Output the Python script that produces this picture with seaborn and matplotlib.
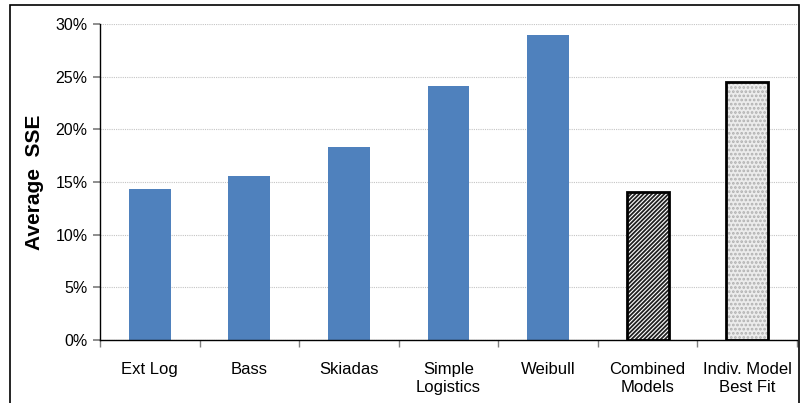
import numpy as np
import pandas as pd
import seaborn as sns
import matplotlib.pyplot as plt
from matplotlib.patches import Rectangle
from matplotlib.ticker import FixedLocator

# data
models = ["Ext Log", "Bass", "Skiadas", "Simple\nLogistics", "Weibull",
          "Combined\nModels", "Indiv. Model\nBest Fit"]
avg_sse = [14.3, 15.6, 18.3, 24.1, 29.0, 14.05, 24.5]
y_ticks = [0, 5, 10, 15, 20, 25, 30]

df = pd.DataFrame({"model": models, "sse": avg_sse})

sns.set_theme(style="white")
plt.rcParams['font.family'] = ['Liberation Sans', 'DejaVu Sans']
plt.rcParams['hatch.linewidth'] = 1.3
plt.rcParams['text.color'] = 'black'
plt.rcParams['axes.labelcolor'] = 'black'
plt.rcParams['xtick.color'] = 'black'
plt.rcParams['ytick.color'] = 'black'

fig = plt.figure(figsize=(8.03, 4.03), dpi=100)
ax = fig.add_axes([100 / 803, 1 - 340 / 403, 697 / 803, (340 - 24) / 403])

blue = "#4F81BD"
palette = [blue] * 5 + ["white", "#ececec"]
sns.barplot(data=df, x="model", y="sse", hue="model", palette=palette,
            width=0.42, legend=False, ax=ax, saturation=1)

# hatched comparison bars
bars = ax.patches
bars[5].set_hatch("////////")
bars[5].set_edgecolor("#202020")
bars[5].set_linewidth(0)
bars[6].set_hatch("....")
bars[6].set_edgecolor("#b0b0b0")
bars[6].set_linewidth(0)
# black outlines drawn on top of the hatched bars
for b in bars[5:]:
    ax.add_patch(Rectangle((b.get_x(), 0), b.get_width(), b.get_height(),
                           fill=False, edgecolor="black", linewidth=2, zorder=3))
for p in bars[:5]:
    p.set_edgecolor("none")

ax.set_ylim(0, 30)
ax.set_xlim(-0.5, len(models) - 0.5)
ax.set_yticks(y_ticks)
ax.set_yticklabels([f"{t}%" for t in y_ticks], fontsize=11.5)
ax.yaxis.grid(True, color="#c4c4c4", linestyle=(0, (1, 1)), linewidth=0.8)
ax.set_axisbelow(True)

ax.set_xticks(range(len(models)))
ax.set_xticklabels(models, fontsize=12, linespacing=1.2)
ax.xaxis.set_minor_locator(FixedLocator(np.arange(-0.5, len(models), 1.0)))
ax.tick_params(axis="x", which="major", length=0, pad=16)
ax.tick_params(axis="x", which="minor", length=5, color="#808080", direction="out", bottom=True)
ax.tick_params(axis="y", length=5, color="#808080", labelcolor="black", direction="out", left=True, pad=4)

ax.set_xlabel("")
ax.set_ylabel("Average  SSE", fontsize=15, fontweight="bold", labelpad=8)

for side in ["top", "right"]:
    ax.spines[side].set_visible(False)
for side in ["left", "bottom"]:
    ax.spines[side].set_color("black")
    ax.spines[side].set_linewidth(1)

# outer frame around the chart
fig.patches.append(Rectangle((10 / 803, -0.05), 789 / 803, 1.05 - 5 / 403,
                             transform=fig.transFigure, fill=False,
                             edgecolor="black", linewidth=1.2))

plt.savefig("out.png", dpi=100)
